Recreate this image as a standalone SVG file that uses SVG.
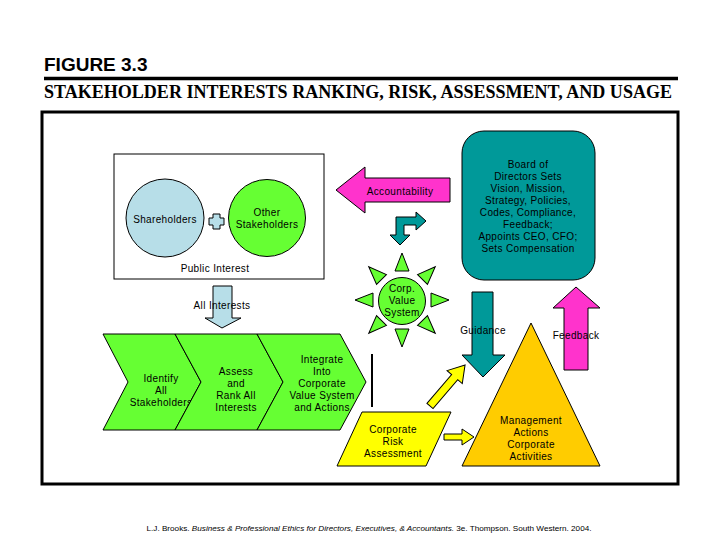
<svg xmlns="http://www.w3.org/2000/svg" width="720" height="540" viewBox="0 0 720 540">
<style>
.t{font-family:"Liberation Sans",Arial,sans-serif;font-size:10px;letter-spacing:0.35px;fill:#000;text-anchor:middle}
.s{stroke:#000;stroke-width:1}
.green{fill:#66FF33}
.teal{fill:#009999}
.mag{fill:#FF33CC}
.yel{fill:#FFFF00}
.lb{fill:#B7DEE8}
</style>
<defs>
<polygon id="ray" points="402,253 395,271 409,271" class="green s"/>
</defs>
<rect width="720" height="540" fill="#fff"/>
<text x="44" y="71" font-family="Liberation Sans,Arial,sans-serif" font-weight="bold" font-size="19">FIGURE 3.3</text>
<line x1="44" y1="78.5" x2="678" y2="78.5" stroke="#000" stroke-width="3.5"/>
<text x="44" y="98" font-family="Liberation Serif,Times New Roman,serif" font-weight="bold" font-size="17.9" textLength="628" lengthAdjust="spacingAndGlyphs">STAKEHOLDER INTERESTS RANKING, RISK, ASSESSMENT, AND USAGE</text>
<rect x="42" y="112" width="636" height="372" fill="none" stroke="#000" stroke-width="3"/>

<g id="public-interest">
<rect x="114" y="154" width="210" height="125" fill="#fff" class="s"/>
<text class="t" x="215" y="272">Public Interest</text>
</g>
<g id="shareholders">
<circle cx="165" cy="218" r="39" class="lb s"/>
<text class="t" x="165" y="222.5">Shareholders</text>
</g>
<g id="plus">
<path d="M213 214h7v4h4v7h-4v4h-7v-4h-4v-7h4z" class="lb s"/>
</g>
<g id="other-stakeholders">
<circle cx="267" cy="218" r="38.5" class="green s"/>
<text class="t" x="267" y="215.5">Other</text>
<text class="t" x="267" y="227.5">Stakeholders</text>
</g>
<g id="board">
<rect x="462" y="131" width="133" height="149" rx="22" class="teal s"/>
<text class="t" x="528" y="167.5">Board of</text>
<text class="t" x="528" y="179.5">Directors Sets</text>
<text class="t" x="528" y="191.5">Vision, Mission,</text>
<text class="t" x="528" y="203.5">Strategy, Policies,</text>
<text class="t" x="528" y="215.5">Codes, Compliance,</text>
<text class="t" x="528" y="227.5">Feedback;</text>
<text class="t" x="528" y="239.5">Appoints CEO, CFO;</text>
<text class="t" x="528" y="251.5">Sets Compensation</text>
</g>
<g id="corp-value-system">
<use href="#ray"/>
<use href="#ray" transform="rotate(45 402 300)"/>
<use href="#ray" transform="rotate(90 402 300)"/>
<use href="#ray" transform="rotate(135 402 300)"/>
<use href="#ray" transform="rotate(180 402 300)"/>
<use href="#ray" transform="rotate(225 402 300)"/>
<use href="#ray" transform="rotate(270 402 300)"/>
<use href="#ray" transform="rotate(315 402 300)"/>
<circle cx="402" cy="301" r="23.5" class="green s"/>
<text class="t" x="402" y="291.5">Corp.</text>
<text class="t" x="402" y="303.5">Value</text>
<text class="t" x="402" y="315.5">System</text>
</g>
<g id="identify">
<path d="M103 334L175 334L201 382L175 430L103 430L128 382Z" class="green s"/>
<text class="t" x="161" y="381.5">Identify</text>
<text class="t" x="161" y="393.5">All</text>
<text class="t" x="161" y="405.5">Stakeholders</text>
</g>
<g id="assess">
<path d="M175 334L257 334L283 382L257 430L175 430L201 382Z" class="green s"/>
<text class="t" x="236" y="374.5">Assess</text>
<text class="t" x="236" y="386.5">and</text>
<text class="t" x="236" y="398.5">Rank All</text>
<text class="t" x="236" y="410.5">Interests</text>
</g>
<g id="integrate">
<path d="M257 334L340 334L366 382L340 430L257 430L283 382Z" class="green s"/>
<text class="t" x="322" y="362.5">Integrate</text>
<text class="t" x="322" y="374.5">Into</text>
<text class="t" x="322" y="386.5">Corporate</text>
<text class="t" x="322" y="398.5">Value System</text>
<text class="t" x="322" y="410.5">and Actions</text>
</g>
<g id="management">
<path d="M531 323L600 466L462 466Z" fill="#FFCC00" class="s"/>
<text class="t" x="531" y="423.5">Management</text>
<text class="t" x="531" y="435.5">Actions</text>
<text class="t" x="531" y="447.5">Corporate</text>
<text class="t" x="531" y="459.5">Activities</text>
</g>
<g id="risk-assessment">
<path d="M362 412L451 412L426 466L337 466Z" class="yel s"/>
<text class="t" x="393" y="432.5">Corporate</text>
<text class="t" x="393" y="444.5">Risk</text>
<text class="t" x="393" y="456.5">Assessment</text>
</g>

<g id="connectors">
<path d="M336 190L365 167L365 178L450 178L450 202L365 202L365 213Z" class="mag s"/>
<text class="t" x="400" y="194.5">Accountability</text>
<path d="M396 217L416 217L416 212L426 221L416 230L416 225L404 225L404 235L410 235L400 245L390 235L396 235Z" class="teal s"/>
<path d="M213 286L232 286L232 318L241 318L222 328L205 318L213 318Z" class="lb s"/>
<text class="t" x="222" y="308.5">All Interests</text>
<path d="M472 292L493 292L493 355L505 355L483 377L462 355L472 355Z" class="teal s"/>
<text class="t" x="483" y="333.5">Guidance</text>
<path d="M576 287L600 308L588 308L588 370L564 370L564 308L553 308Z" class="mag s"/>
<text class="t" x="576" y="338.5">Feedback</text>
<path d="M0 -4L38 -4L38 -10L54 0L38 10L38 4L0 4Z" class="yel s" transform="translate(430 406) rotate(-49.5)"/>
<path d="M444 434L462 434L462 429L474 437L462 445L462 440L444 440Z" class="yel s"/>
<line x1="372" y1="354" x2="372" y2="407" stroke="#000" stroke-width="2"/>
</g>

<text x="369" y="531" font-family="Liberation Sans,Arial,sans-serif" font-size="7.5" text-anchor="middle" textLength="445" lengthAdjust="spacingAndGlyphs">L.J. Brooks. <tspan font-style="italic">Business &amp; Professional Ethics for Directors, Executives, &amp; Accountants.</tspan> 3e. Thompson. South Western. 2004.</text>
</svg>
